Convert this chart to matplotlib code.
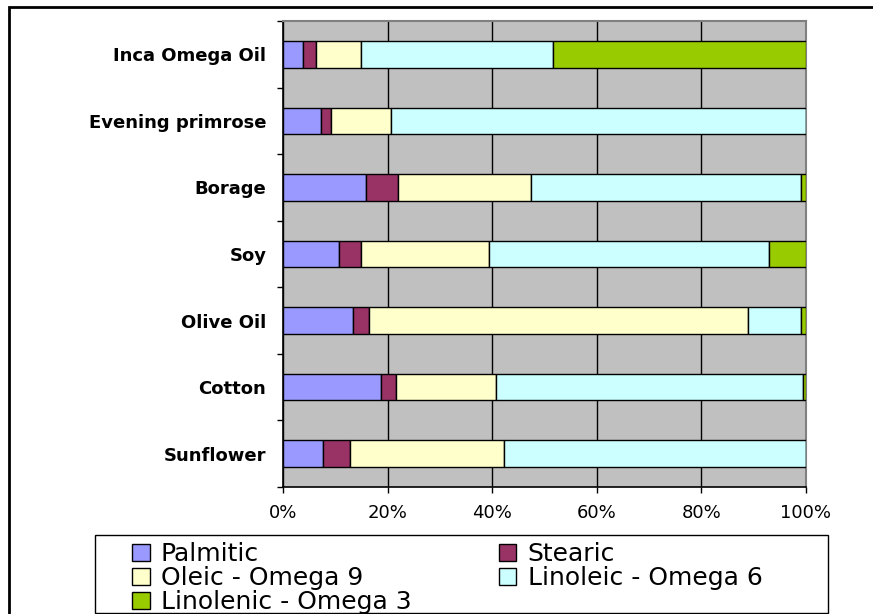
import numpy as np
import matplotlib
matplotlib.use("Agg")
import matplotlib.pyplot as plt
from matplotlib.patches import Rectangle
from matplotlib.ticker import PercentFormatter, FixedLocator

# oils listed bottom to top, as drawn
oils = ["Sunflower", "Cotton", "Olive Oil", "Soy", "Borage",
        "Evening primrose", "Inca Omega Oil"]

# fatty acid shares in percent
palmitic = [7.6, 18.8, 13.3, 10.8, 15.8, 7.2, 3.8]
stearic = [5.2, 2.8, 3.1, 4.1, 6.1, 1.9, 2.5]
oleic = [29.4, 19.2, 72.6, 24.4, 25.5, 11.5, 8.6]
linoleic = [57.8, 58.7, 10.0, 53.6, 51.6, 79.4, 36.8]
linolenic = [0.0, 0.5, 1.0, 7.1, 1.0, 0.0, 48.3]

series = ["Palmitic", "Stearic", "Oleic - Omega 9", "Linoleic - Omega 6",
          "Linolenic - Omega 3"]
colors = ["#9999FF", "#993366", "#FFFFCC", "#CCFFFF", "#99CC00"]
x_ticks = [0, 20, 40, 60, 80, 100]

fig = plt.figure(figsize=(8.73, 6.14), dpi=100)
ax = fig.add_axes([283 / 873, 1 - 487 / 614, 523 / 873, 466 / 614])
ax.set_facecolor("#C0C0C0")

y = np.arange(len(oils))
left = np.zeros(len(oils))
handles = []
for name, vals, col in zip(series, [palmitic, stearic, oleic, linoleic, linolenic], colors):
    vals = np.array(vals)
    b = ax.barh(y, vals, left=left, height=0.4, color=col, edgecolor="black",
                linewidth=1, label=name, zorder=3)
    handles.append(b)
    left = left + vals

ax.set_xlim(0, 100)
ax.set_ylim(-0.5, len(oils) - 0.5)
ax.set_xticks(x_ticks)
ax.xaxis.set_major_formatter(PercentFormatter(xmax=100, decimals=0))
ax.grid(axis="x", color="black", linewidth=1, zorder=1)
ax.set_axisbelow(True)

ax.set_yticks(y)
ax.set_yticklabels(oils, fontsize=13, fontweight="bold", family="DejaVu Sans")
ax.yaxis.set_minor_locator(FixedLocator(np.arange(-0.5, len(oils), 1.0)))
ax.tick_params(axis="y", which="major", length=0, pad=12)
ax.tick_params(axis="y", which="minor", length=4, width=1, direction="out")
ax.tick_params(axis="x", length=4, width=1, direction="out", pad=8, labelsize=13)

for s in ["left", "bottom"]:
    ax.spines[s].set_color("black")
    ax.spines[s].set_linewidth(1.2)
for s in ["top", "right"]:
    ax.spines[s].set_color("#808080")
    ax.spines[s].set_linewidth(1.5)

# chart frame (only left and top edges visible in the crop)
fig.patches.append(Rectangle((9 / 873, -0.05), 1.1, 1 - 7 / 614 + 0.05,
                             transform=fig.transFigure, fill=False,
                             edgecolor="black", linewidth=2))

# legend box
fig.patches.append(Rectangle((95 / 873, 1 - 613 / 614), 733 / 873, 78 / 614,
                             transform=fig.transFigure, fill=False,
                             edgecolor="black", linewidth=1))

order = [0, 2, 4, 1, 3]
leg = fig.legend([handles[i] for i in order], [series[i] for i in order],
                 ncol=2, loc="upper left",
                 bbox_to_anchor=(132 / 873, 1 - 542 / 614),
                 bbox_transform=fig.transFigure,
                 fontsize=18, frameon=False,
                 borderaxespad=0, borderpad=0, handlelength=0.7,
                 handleheight=0.7, handletextpad=0.45, labelspacing=0.0,
                 columnspacing=3.5)

fig.savefig("out.png", dpi=100)
